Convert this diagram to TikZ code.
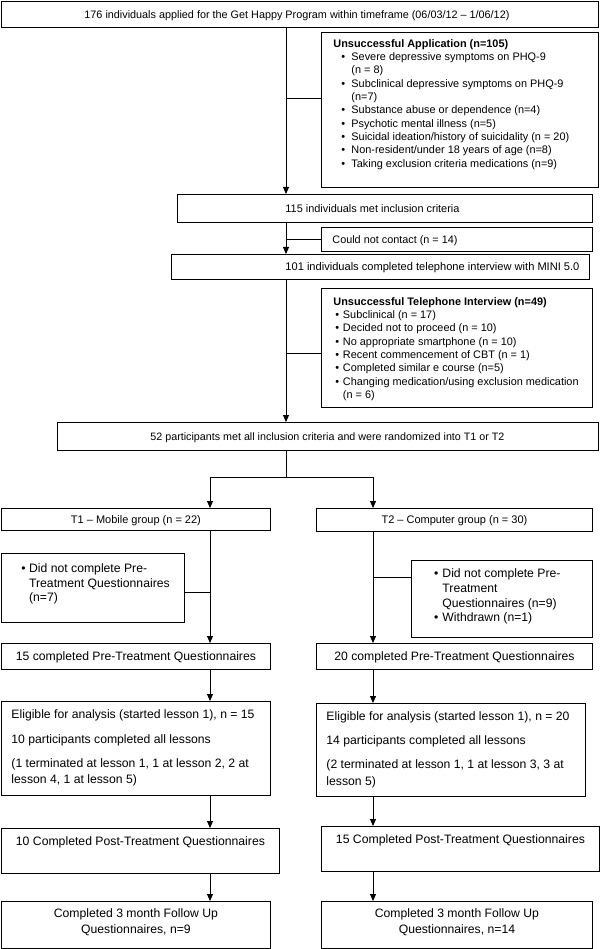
\documentclass[tikz,border=0pt]{standalone}
\usepackage{fontspec}
\setmainfont{Liberation Sans}
\usetikzlibrary{arrows.meta}
\newcommand\bl[2]{\makebox[#2pt][l]{\hspace{#1pt}\textbullet}}
\newcommand\pbx[4]{\parbox[t][#2pt][t]{#1pt}{\vspace*{#3pt}#4\par}}
\newcommand\fitw[2]{\resizebox{#1pt}{!}{#2}}
\tikzset{
  bx/.style={draw, line width=0.9pt, inner sep=0pt, anchor=north west},
  sm/.style={font=\fontsize{10.9}{13.3}\selectfont},
  lg/.style={font=\fontsize{12.2}{16.5}\selectfont},
  onesm/.style={bx, sm, text height=7.85pt, text depth=0pt},
  onelg/.style={bx, lg, text height=8.78pt, text depth=0pt},
  arr/.style={line width=0.9pt, -{Triangle[width=6pt,length=7pt]}},
  ln/.style={line width=0.9pt},
}
\begin{document}
\begin{tikzpicture}[x=1pt,y=-1pt]
\fill[white] (0,0) rectangle (600,949);
\useasboundingbox (0,0) rectangle (600,949);

\coordinate (mx) at (286,0);
\coordinate (lx) at (210,0);
\coordinate (rx) at (373,0);
\coordinate (c1) at (0,98);
\coordinate (c2) at (0,353);
\coordinate (c3) at (0,592);
\coordinate (c4) at (0,577);
\coordinate (sp) at (0,477);

% boxes
\node[onesm, minimum width=597pt, minimum height=26pt] (top) at (1,1)
  {\makebox[597pt][l]{\hspace{83pt}\fitw{425}{176 individuals applied for the Get Happy Program within timeframe (06/03/12 -- 1/06/12)}}};

\node[bx, sm] (excl1) at (321,32) {\pbx{277}{155}{5.6}{\raggedright\leftskip=12pt\parindent=0pt
  \strut\textbf{Unsuccessful Application (n=105)}\\
  \bl{8}{18}Severe depressive symptoms on PHQ-9\\
  \hspace*{18pt}(n = 8)\\
  \bl{8}{18}Subclinical depressive symptoms on PHQ-9\\
  \hspace*{18pt}(n=7)\\
  \bl{8}{18}Substance abuse or dependence (n=4)\\
  \bl{8}{18}Psychotic mental illness (n=5)\\
  \bl{8}{18}Suicidal ideation/history of suicidality (n = 20)\\
  \bl{8}{18}Non-resident/under 18 years of age (n=8)\\
  \bl{8}{18}Taking exclusion criteria medications (n=9)}};

\node[onesm, minimum width=415pt, minimum height=28pt] (incl) at (177,194)
  {\makebox[415pt][l]{\hspace{108pt}\fitw{174}{115 individuals met inclusion criteria}}};

\node[onesm, minimum width=271pt, minimum height=24pt] (cnc) at (321,227)
  {\makebox[271pt][l]{\hspace{11pt}\fitw{125}{Could not contact (n = 14)}}};

\node[onesm, minimum width=418pt, minimum height=25pt] (tel) at (171,254)
  {\makebox[418pt][l]{\hspace{114pt}\fitw{294}{101 individuals completed telephone interview with MINI 5.0}}};

\node[bx, sm] (excl2) at (321,288) {\pbx{271}{119}{7.6}{\raggedright\leftskip=12pt\parindent=0pt
  \strut\textbf{Unsuccessful Telephone Interview (n=49)}\\
  \bl{2}{9.5}Subclinical (n = 17)\\
  \bl{2}{9.5}Decided not to proceed (n = 10)\\
  \bl{2}{9.5}No appropriate smartphone (n = 10)\\
  \bl{2}{9.5}Recent commencement of CBT (n = 1)\\
  \bl{2}{9.5}Completed similar e course (n=5)\\
  \bl{2}{9.5}Changing medication/using exclusion medication\\
  \hspace*{9.5pt}(n = 6)}};

\node[onesm, minimum width=541pt, minimum height=28pt] (rand) at (57,422)
  {\makebox[541pt][l]{\hspace{93pt}\fitw{354}{52 participants met all inclusion criteria and were randomized into T1 or T2}}};

\node[onesm, font=\fontsize{11}{13}\selectfont, minimum width=269pt, minimum height=22pt] (t1) at (1,508)
  {T1 -- Mobile group (n = 22)};
\node[onesm, font=\fontsize{11}{13}\selectfont, minimum width=276pt, minimum height=23pt] (t2) at (316,508)
  {T2 -- Computer group (n = 30)};

\node[bx, font=\fontsize{12.2}{14.5}\selectfont] (drop1) at (1,553) {\pbx{183}{69}{9.25}{\raggedright\leftskip=0pt\parindent=0pt
  \strut\bl{20}{27.7}Did not complete Pre-\\
  \hspace*{27.7pt}Treatment Questionnaires\\
  \hspace*{27.7pt}(n=7)}};

\node[bx, font=\fontsize{12.2}{14.7}\selectfont] (drop2) at (411,560) {\pbx{181}{77}{7.1}{\raggedright\leftskip=0pt\parindent=0pt
  \strut\bl{22.6}{31}Did not complete Pre-\\
  \hspace*{31pt}Treatment\\
  \hspace*{31pt}Questionnaires (n=9)\\
  \bl{22.6}{31}Withdrawn (n=1)}};

\node[onelg, minimum width=269pt, minimum height=26pt] (pre1) at (1,643)
  {\fitw{240}{15 completed Pre-Treatment Questionnaires}};
\node[onelg, minimum width=276pt, minimum height=26pt] (pre2) at (316,643)
  {\fitw{240}{20 completed Pre-Treatment Questionnaires}};

\node[bx, lg] (elig1) at (1,701) {\pbx{269}{94}{5.85}{\raggedright\leftskip=10pt\parindent=0pt
  \strut Eligible for analysis (started lesson 1), n = 15\\[7.8pt]
  10 participants completed all lessons\\[7.8pt]
  (1 terminated at lesson 1, 1 at lesson 2, 2 at\\
  lesson 4, 1 at lesson 5)}};
\node[bx, lg] (elig2) at (316,703) {\pbx{269}{93}{5.85}{\raggedright\leftskip=10pt\parindent=0pt
  \strut Eligible for analysis (started lesson 1), n = 20\\[7.5pt]
  14 participants completed all lessons\\[7.5pt]
  (2 terminated at lesson 1, 1 at lesson 3, 3 at\\
  lesson 5)}};

\node[onelg, text depth=19pt, minimum width=278pt, minimum height=45pt] (post1) at (1,828)
  {\fitw{249}{10 Completed Post-Treatment Questionnaires}};
\node[onelg, text depth=19pt, minimum width=278pt, minimum height=45pt] (post2) at (321,826)
  {\fitw{249}{15 Completed Post-Treatment Questionnaires}};

\node[bx, font=\fontsize{12.2}{16}\selectfont] (fu1) at (1,901) {\pbx{269}{47}{5.2}{\centering\parindent=0pt
  \strut Completed 3 month Follow Up\\ Questionnaires, n=9}};
\node[bx, font=\fontsize{12.2}{16}\selectfont] (fu2) at (321,901) {\pbx{271}{47}{5.2}{\centering\parindent=0pt
  \strut Completed 3 month Follow Up\\ Questionnaires, n=14}};

% connectors
\draw[arr] (top.south -| mx) -- (incl.north -| mx);
\draw[ln] (mx |- c1) -- (excl1.west |- c1);
\draw[arr] (incl.south -| mx) -- (tel.north -| mx);
\draw[ln] (mx |- cnc.west) -- (cnc.west);
\draw[arr] (tel.south -| mx) -- (rand.north -| mx);
\draw[ln] (mx |- c2) -- (excl2.west |- c2);
\draw[ln] (rand.south -| mx) -- (mx |- sp);
\draw[arr] (mx |- sp) -| (t1.north -| lx);
\draw[arr] (mx |- sp) -| (t2.north -| rx);

\draw[arr] (t1.south -| lx) -- (pre1.north -| lx);
\draw[ln] (drop1.east |- c3) -- (lx |- c3);
\draw[arr] (pre1.south -| lx) -- (elig1.north -| lx);
\draw[arr] (elig1.south -| lx) -- (post1.north -| lx);
\draw[arr] (post1.south -| lx) -- (fu1.north -| lx);

\draw[arr] (t2.south -| rx) -- (pre2.north -| rx);
\draw[ln] (rx |- c4) -- (drop2.west |- c4);
\draw[arr] (pre2.south -| rx) -- (elig2.north -| rx);
\draw[arr] (elig2.south -| rx) -- (post2.north -| rx);
\draw[arr] (post2.south -| rx) -- (fu2.north -| rx);
\end{tikzpicture}
\end{document}
